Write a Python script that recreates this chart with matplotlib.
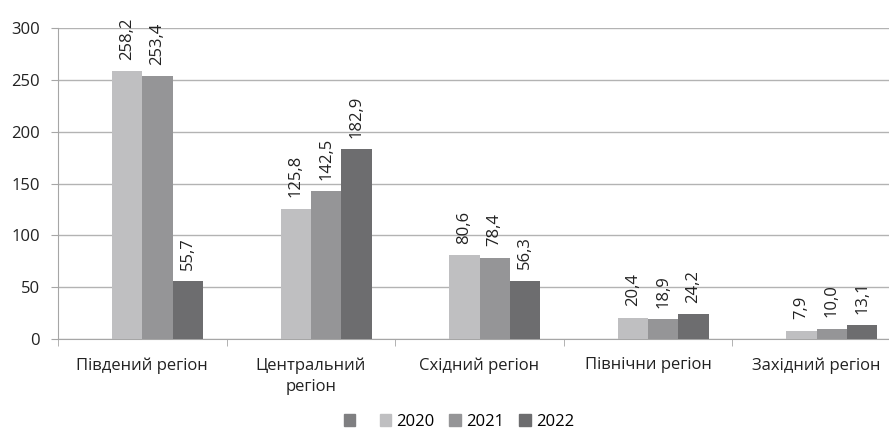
import matplotlib
matplotlib.use("Agg")
from matplotlib import pyplot as plt
from matplotlib.patches import Patch
import numpy as np

plt.rcParams['font.family'] = ['Open Sans', 'DejaVu Sans']

regions = ['Південий регіон', 'Центральний\nрегіон', 'Східний регіон',
           'Північни регіон', 'Західний регіон']
years = [' ', '2020', '2021', '2022']
blank = [0, 0, 0, 0, 0]
v2020 = [258.2, 125.8, 80.6, 20.4, 7.9]
v2021 = [253.4, 142.5, 78.4, 18.9, 10.0]
v2022 = [55.7, 182.9, 56.3, 24.2, 13.1]
series = [blank, v2020, v2021, v2022]
colors = ['#7f7f81', '#bfbfc1', '#959597', '#6d6d6f']

fs = 12
fig = plt.figure(figsize=(8.89, 4.38), dpi=100)
ax = fig.add_axes([58 / 889, 1 - 339 / 438, 843 / 889, 311 / 438])

x = np.arange(len(regions))
w = 0.18
for i, (vals, lab, c) in enumerate(zip(series, years, colors)):
    pos = x + (i - 1.5) * w
    ax.bar(pos, vals, w, color=c, zorder=3)
    if lab.strip():
        for p, v in zip(pos, vals):
            ax.text(p, v + 11, ('%.1f' % v).replace('.', ','), rotation=90,
                    ha='center', va='bottom', fontsize=fs, color='#222222')

ax.set_xlim(-0.5, len(regions) - 0.5)
ax.set_ylim(0, 300)
ax.set_yticks(range(0, 301, 50))
ax.yaxis.grid(True, color='#b3b3b3', linewidth=1, zorder=0)
ax.set_xticks(x)
ax.set_xticklabels(regions, fontsize=fs, color='#222222', linespacing=1.45)
ax.set_xticks(np.arange(-0.5, len(regions), 1), minor=True)
ax.tick_params(axis='x', which='major', length=0, pad=13)
ax.tick_params(axis='x', which='minor', length=5, color='#a6a6a6')
ax.tick_params(axis='y', length=5, color='#a6a6a6', labelsize=fs,
               labelcolor='#222222', pad=8)
for s in ['top', 'right']:
    ax.spines[s].set_visible(False)
for s in ['left', 'bottom']:
    ax.spines[s].set_color('#a6a6a6')

handles = [Patch(color=c, label=lab) for c, lab in zip(colors, years)]
fig.legend(handles=handles, loc='lower center', bbox_to_anchor=(0.516, -0.015),
           ncol=4, frameon=False, fontsize=fs, handlelength=0.7,
           handleheight=0.7, handletextpad=0.3, columnspacing=0.9)

plt.savefig('out.png', dpi=100)
